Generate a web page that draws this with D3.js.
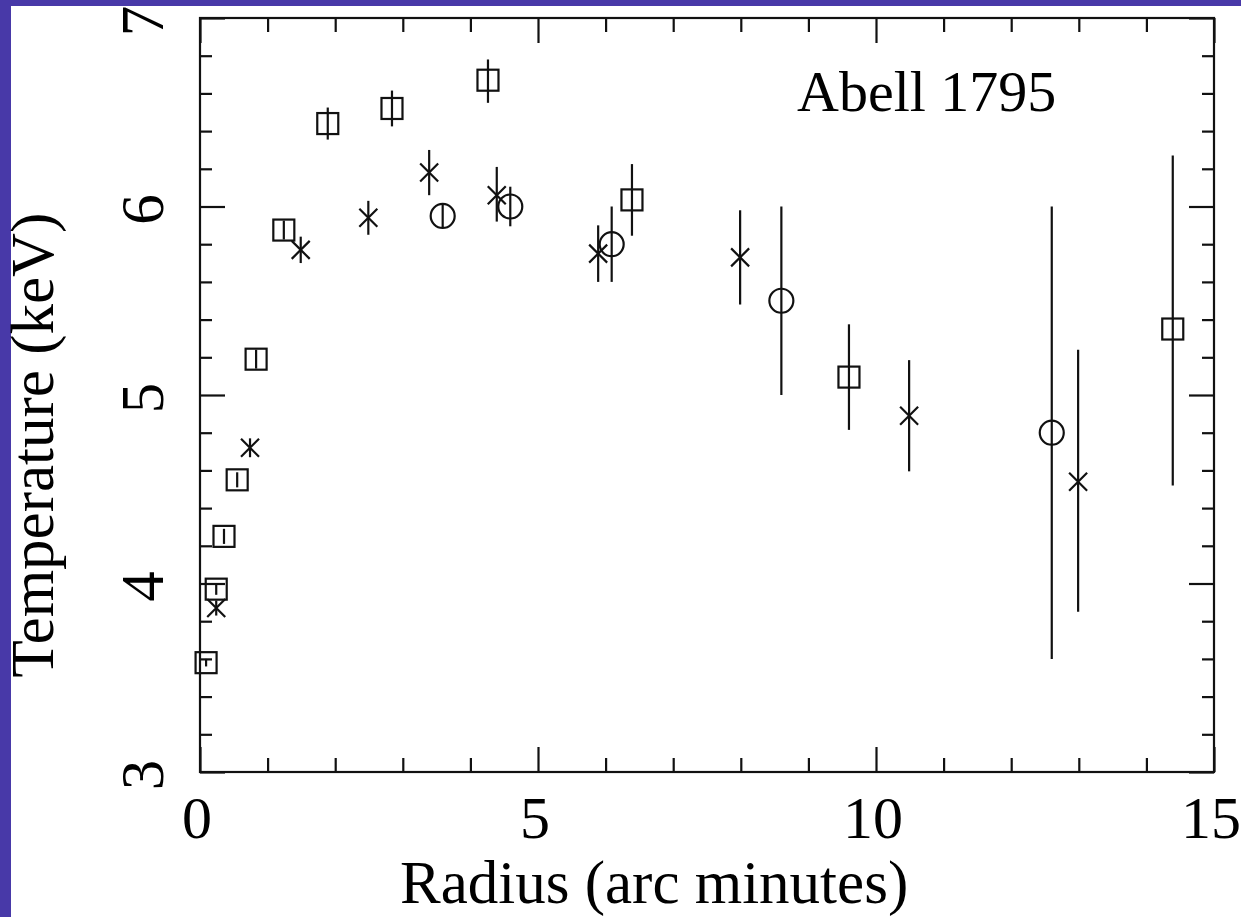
<!DOCTYPE html>
<html>
<head>
<meta charset="utf-8">
<script src="https://cdn.jsdelivr.net/npm/d3@7"></script>
<style>
  html, body { margin: 0; padding: 0; background: #4839a8; }
  svg { display: block; }
  .tick line { stroke: #111; stroke-width: 2.2; }
  .lbl { font-family: "Liberation Serif", "Times New Roman", serif; fill: #000; }
</style>
</head>
<body>
<svg id="chart" width="1241" height="917"></svg>
<script>
// ---- data ----
var square_r   = [0.09, 0.24, 0.355, 0.55, 0.83, 1.24, 1.89, 2.84, 4.26, 6.39, 9.6, 14.39];
var square_t   = [3.58, 3.97, 4.25, 4.55, 5.19, 5.875, 6.44, 6.52, 6.67, 6.035, 5.095, 5.35];
var square_elo = [0.02, 0.03, 0.04, 0.04, 0.05, 0.05, 0.085, 0.095, 0.12, 0.19, 0.28, 0.83];
var square_ehi = [0.02, 0.03, 0.04, 0.04, 0.05, 0.05, 0.085, 0.095, 0.11, 0.19, 0.28, 0.92];

var cross_r   = [0.24, 0.74, 1.49, 2.49, 3.39, 4.39, 5.89, 7.99, 10.49, 12.99];
var cross_t   = [3.87, 4.72, 5.77, 5.94, 6.18, 6.06, 5.75, 5.73, 4.89, 4.54];
var cross_elo = [0.04, 0.05, 0.07, 0.09, 0.12, 0.14, 0.15, 0.25, 0.295, 0.69];
var cross_ehi = [0.04, 0.05, 0.07, 0.09, 0.12, 0.15, 0.15, 0.25, 0.295, 0.70];

var circle_r   = [3.59, 4.59, 6.09, 8.6, 12.6];
var circle_t   = [5.95, 6.0, 5.80, 5.50, 4.80];
var circle_elo = [0.06, 0.105, 0.2, 0.5, 1.2];
var circle_ehi = [0.06, 0.105, 0.2, 0.5, 1.2];

var x_major = [0, 5, 10, 15];
var y_major = [3, 4, 5, 6, 7];

var svg = d3.select("#chart");

// white page area over the purple slide
svg.append("rect")
    .attr("x", 11).attr("y", 6)
    .attr("width", 1241 - 11).attr("height", 917 - 6)
    .attr("fill", "#fff");

const LEFT = 200, RIGHT = 1214, TOP = 18, BOTTOM = 772;

var xscale = d3.scaleLinear().domain([0, 15]).range([LEFT, RIGHT]);
var yscale = d3.scaleLinear().domain([3, 7]).range([BOTTOM, TOP]);

var x_minor = d3.range(0, 16, 1).filter(v => v % 5 != 0);
var y_minor = d3.range(3, 7.001, 0.2).filter(v => Math.abs(v - Math.round(v)) > 0.01);

function addAxis(axis, tx, ty) {
    var g = svg.append("g")
        .attr("transform", "translate(" + tx + "," + ty + ")")
        .call(axis);
    g.select(".domain").remove();
    g.selectAll("text").remove();
    return g;
}

// ticks on all four sides, pointing in
addAxis(d3.axisBottom(xscale).tickValues(x_major).tickSize(-25).tickSizeOuter(0), 0, BOTTOM);
addAxis(d3.axisBottom(xscale).tickValues(x_minor).tickSize(-14).tickSizeOuter(0), 0, BOTTOM);
addAxis(d3.axisTop(xscale).tickValues(x_major).tickSize(-25).tickSizeOuter(0), 0, TOP);
addAxis(d3.axisTop(xscale).tickValues(x_minor).tickSize(-14).tickSizeOuter(0), 0, TOP);
addAxis(d3.axisLeft(yscale).tickValues(y_major).tickSize(-25).tickSizeOuter(0), LEFT, 0);
addAxis(d3.axisLeft(yscale).tickValues(y_minor).tickSize(-12).tickSizeOuter(0), LEFT, 0);
addAxis(d3.axisRight(yscale).tickValues(y_major).tickSize(-25).tickSizeOuter(0), RIGHT, 0);
addAxis(d3.axisRight(yscale).tickValues(y_minor).tickSize(-12).tickSizeOuter(0), RIGHT, 0);

// frame
svg.append("rect")
    .attr("x", LEFT).attr("y", TOP)
    .attr("width", RIGHT - LEFT).attr("height", BOTTOM - TOP)
    .attr("fill", "none").attr("stroke", "#111").attr("stroke-width", 2.2);

// tick labels
svg.append("g").selectAll("text")
    .data(x_major).enter().append("text")
    .attr("class", "lbl")
    .attr("x", d => xscale(d) - 3)
    .attr("y", 838)
    .attr("text-anchor", "middle")
    .attr("font-size", 60)
    .text(d => d);

svg.append("g").selectAll("text")
    .data(y_major).enter().append("text")
    .attr("class", "lbl")
    .attr("transform", d => "translate(163," + (yscale(d) + 3) + ") rotate(-90)")
    .attr("text-anchor", "middle")
    .attr("font-size", 61)
    .text(d => d);

// axis titles
svg.append("text")
    .attr("class", "lbl")
    .attr("x", 400).attr("y", 903)
    .attr("font-size", 61)
    .text("Radius (arc minutes)");

svg.append("text")
    .attr("class", "lbl")
    .attr("transform", "translate(53,445) rotate(-90)")
    .attr("text-anchor", "middle")
    .attr("font-size", 61)
    .text("Temperature (keV)");

svg.append("text")
    .attr("class", "lbl")
    .attr("x", 797).attr("y", 111)
    .attr("font-size", 58)
    .text("Abell 1795");

// ---- data marks ----
var plot = svg.append("g").attr("stroke", "#111").attr("stroke-width", 2.2).attr("fill", "none");

function errorBars(rs, ts, lo, hi) {
    plot.append("g").selectAll("line")
        .data(rs).enter().append("line")
        .attr("x1", (d, i) => xscale(d))
        .attr("x2", (d, i) => xscale(d))
        .attr("y1", (d, i) => yscale(ts[i] - lo[i]))
        .attr("y2", (d, i) => yscale(ts[i] + hi[i]));
}

errorBars(square_r, square_t, square_elo, square_ehi);
errorBars(cross_r, cross_t, cross_elo, cross_ehi);
errorBars(circle_r, circle_t, circle_elo, circle_ehi);

plot.append("g").selectAll("rect")
    .data(square_r).enter().append("rect")
    .attr("x", d => xscale(d) - 10.5)
    .attr("y", (d, i) => yscale(square_t[i]) - 10.5)
    .attr("width", 21).attr("height", 21);

plot.append("g").selectAll("circle")
    .data(circle_r).enter().append("circle")
    .attr("cx", d => xscale(d))
    .attr("cy", (d, i) => yscale(circle_t[i]))
    .attr("r", 12);

// x markers (the error bar makes them look like asterisks)
plot.append("g").selectAll("path")
    .data(cross_r).enter().append("path")
    .attr("d", function (d, i) {
        var cx = xscale(d), cy = yscale(cross_t[i]), s = 9;
        return "M" + (cx - s) + "," + (cy - s) + "L" + (cx + s) + "," + (cy + s) +
               "M" + (cx - s) + "," + (cy + s) + "L" + (cx + s) + "," + (cy - s);
    });
</script>
</body>
</html>
